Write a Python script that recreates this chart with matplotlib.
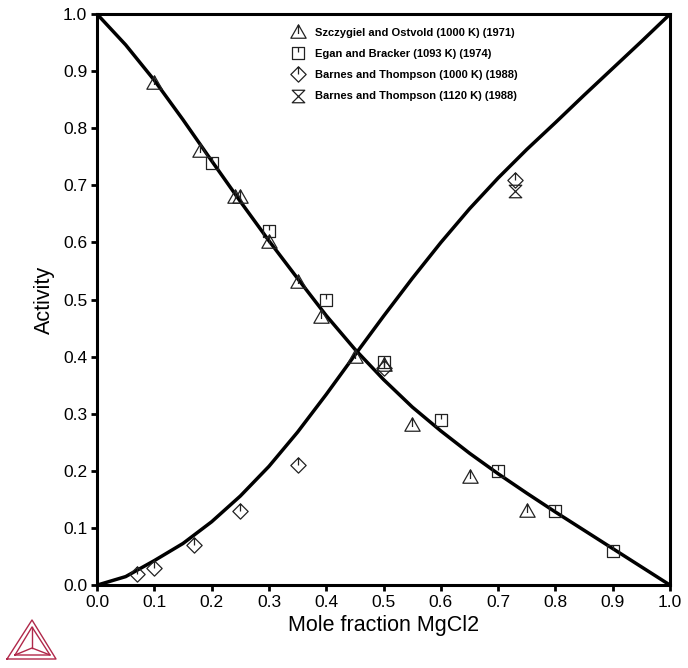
import numpy as np
import matplotlib.pyplot as plt
from matplotlib.path import Path
from matplotlib.lines import Line2D

plt.rcParams['font.family'] = ['Liberation Sans', 'DejaVu Sans']

# calculated activity curves
x_calc = [0.0, 0.05, 0.1, 0.15, 0.2, 0.25, 0.3, 0.35, 0.4, 0.45, 0.5,
          0.55, 0.6, 0.65, 0.7, 0.75, 0.8, 0.85, 0.9, 0.95, 1.0]
a_kcl = [1.000, 0.946, 0.884, 0.815, 0.743, 0.672, 0.603, 0.537, 0.472, 0.413, 0.360,
         0.312, 0.270, 0.231, 0.195, 0.161, 0.128, 0.096, 0.064, 0.032, 0.000]
a_mg = [0.000, 0.015, 0.043, 0.073, 0.111, 0.156, 0.208, 0.268, 0.334, 0.403, 0.471,
        0.537, 0.600, 0.659, 0.713, 0.763, 0.810, 0.858, 0.905, 0.952, 1.000]

# experimental data
szc_x = [0.1, 0.18, 0.24, 0.25, 0.3, 0.35, 0.39, 0.45, 0.5, 0.55, 0.65, 0.75]
szc_y = [0.88, 0.76, 0.68, 0.68, 0.60, 0.53, 0.47, 0.40, 0.385, 0.28, 0.19, 0.13]

egan_x = [0.2, 0.3, 0.4, 0.5, 0.6, 0.7, 0.8, 0.9]
egan_y = [0.74, 0.62, 0.50, 0.39, 0.29, 0.20, 0.13, 0.06]

bt1000_x = [0.07, 0.1, 0.17, 0.25, 0.35, 0.5, 0.73]
bt1000_y = [0.02, 0.03, 0.07, 0.13, 0.21, 0.38, 0.71]

bt1120_x = [0.73]
bt1120_y = [0.69]

labels = ['Szczygiel and Ostvold (1000 K) (1971)',
          'Egan and Bracker (1093 K) (1974)',
          'Barnes and Thompson (1000 K) (1988)',
          'Barnes and Thompson (1120 K) (1988)']

M, L, C = Path.MOVETO, Path.LINETO, Path.CLOSEPOLY
tri = Path([(-1, -0.75), (1, -0.75), (0, 1), (0, 0), (0, 1), (0, -0.2)],
           [M, L, L, C, M, L])
sq = Path([(-1, -1), (1, -1), (1, 1), (-1, 1), (0, 0), (0, 1), (0, 0.2)],
          [M, L, L, L, C, M, L])
dia = Path([(0, -1), (1, 0), (0, 1), (-1, 0), (0, 0), (0, 1), (0, 0)],
           [M, L, L, L, C, M, L])
hour = Path([(-1, 1), (1, 1), (-1, -1), (1, -1), (0, 0)],
            [M, L, L, L, C])

fig = plt.figure(figsize=(6.88, 6.68), dpi=100)
ax = fig.add_axes([0.141, 0.124, 0.833, 0.855])

ax.plot(x_calc, a_kcl, color='black', lw=2.5, solid_joinstyle='round')
ax.plot(x_calc, a_mg, color='black', lw=2.5, solid_joinstyle='round')

mk = dict(ls='none', mfc='none', mec='#222222', mew=0.9, ms=11)
ax.plot(szc_x, szc_y, marker=tri, label=labels[0], **mk)
ax.plot(egan_x, egan_y, marker=sq, label=labels[1], **dict(mk, ms=9))
ax.plot(bt1000_x, bt1000_y, marker=dia, label=labels[2], **mk)
ax.plot(bt1120_x, bt1120_y, marker=hour, label=labels[3], **dict(mk, ms=9))

ax.set_xlim(0, 1)
ax.set_ylim(0, 1)
ax.set_xticks(np.arange(0, 1.01, 0.1))
ax.set_yticks(np.arange(0, 1.01, 0.1))
ax.xaxis.set_major_formatter(plt.FormatStrFormatter('%.1f'))
ax.yaxis.set_major_formatter(plt.FormatStrFormatter('%.1f'))
ax.tick_params(direction='out', length=4, width=2, labelsize=12.5, pad=3)
for s in ax.spines.values():
    s.set_linewidth(2.2)

ax.set_xlabel('Mole fraction MgCl2', fontsize=15.5, labelpad=4)
ax.set_ylabel('Activity', fontsize=15.5, labelpad=6)

leg = ax.legend(loc='upper left', bbox_to_anchor=(0.33, 0.985), frameon=False,
                prop={'size': 8, 'weight': 'bold'}, handlelength=1.2,
                handletextpad=0.9, labelspacing=1.0, borderpad=0)

# Thermo-Calc logo
red = '#b0284a'
def px(x, y):
    return x / 688, 1 - y / 668
logo = [[(7, 659), (32, 620), (56, 659), (7, 659)],
        [(15, 655), (32, 627), (50, 655), (15, 655)],
        [(32, 627), (32, 648)],
        [(15, 655), (32, 648), (50, 655)]]
for seg in logo:
    pts = [px(*p) for p in seg]
    fig.add_artist(Line2D([p[0] for p in pts], [p[1] for p in pts],
                          color=red, lw=1.0, transform=fig.transFigure))

fig.savefig('out.png', dpi=100)
